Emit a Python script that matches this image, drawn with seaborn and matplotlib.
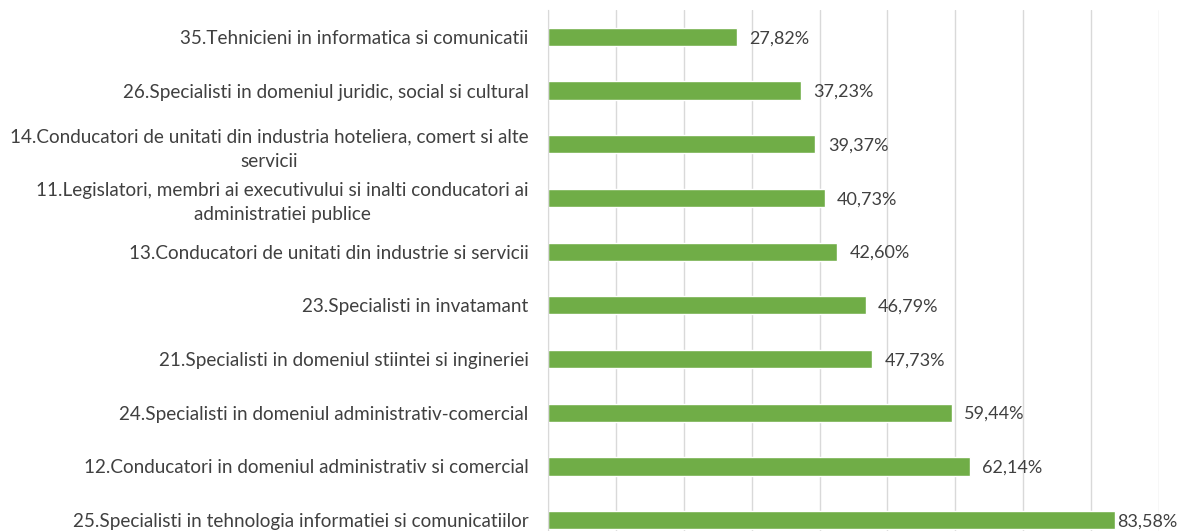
import pandas as pd
import matplotlib
matplotlib.use("Agg")
import matplotlib.pyplot as plt
import seaborn as sns

# Date
categorii = [
    "35.Tehnicieni in informatica si comunicatii",
    "26.Specialisti in domeniul juridic, social si cultural",
    "14.Conducatori de unitati din industria hoteliera, comert si alte\nservicii",
    "11.Legislatori, membri ai executivului si inalti conducatori ai\nadministratiei publice",
    "13.Conducatori de unitati din industrie si servicii",
    "23.Specialisti in invatamant",
    "21.Specialisti in domeniul stiintei si ingineriei",
    "24.Specialisti in domeniul administrativ-comercial",
    "12.Conducatori in domeniul administrativ si comercial",
    "25.Specialisti in tehnologia informatiei si comunicatiilor",
]
procente = [27.82, 37.23, 39.37, 40.73, 42.60, 46.79, 47.73, 59.44, 62.14, 83.58]

dados = pd.DataFrame({"categorie": categorii, "procent": procente})

sns.set_style("white")
plt.rcParams["font.family"] = ["Lato", "DejaVu Sans"]

fig = plt.figure(figsize=(11.78, 5.31), dpi=100)
ax = fig.add_axes([0.4652, -0.030, 0.5187, 1.011])

sns.barplot(x="procent", y="categorie", data=dados, color="#70AD47",
            saturation=1, width=0.34, ax=ax)

ax.set_xlim(0, 90)
ax.set_xticks(range(0, 91, 10))
ax.xaxis.grid(True, color="#D9D9D9", linewidth=1)
ax.set_axisbelow(True)
ax.set_xlabel("")
ax.set_ylabel("")
ax.tick_params(axis="x", bottom=False, labelbottom=False)
ax.tick_params(axis="y", length=0, pad=14, labelsize=13.6, labelcolor="#404040")
for lbl in ax.get_yticklabels():
    lbl.set_multialignment("center")
    lbl.set_linespacing(1.5)

for s in ["top", "right", "bottom"]:
    ax.spines[s].set_visible(False)
ax.spines["left"].set_color("#D9D9D9")

# Etichete valori
for i, v in enumerate(procente):
    pad = 1 if v > 80 else 9
    ax.annotate(f"{v:.2f}%".replace(".", ","), (v, i), xytext=(pad, -1),
                textcoords="offset points", va="center", ha="left",
                fontsize=13, color="#404040", annotation_clip=False)

fig.savefig("out.png", dpi=100)
